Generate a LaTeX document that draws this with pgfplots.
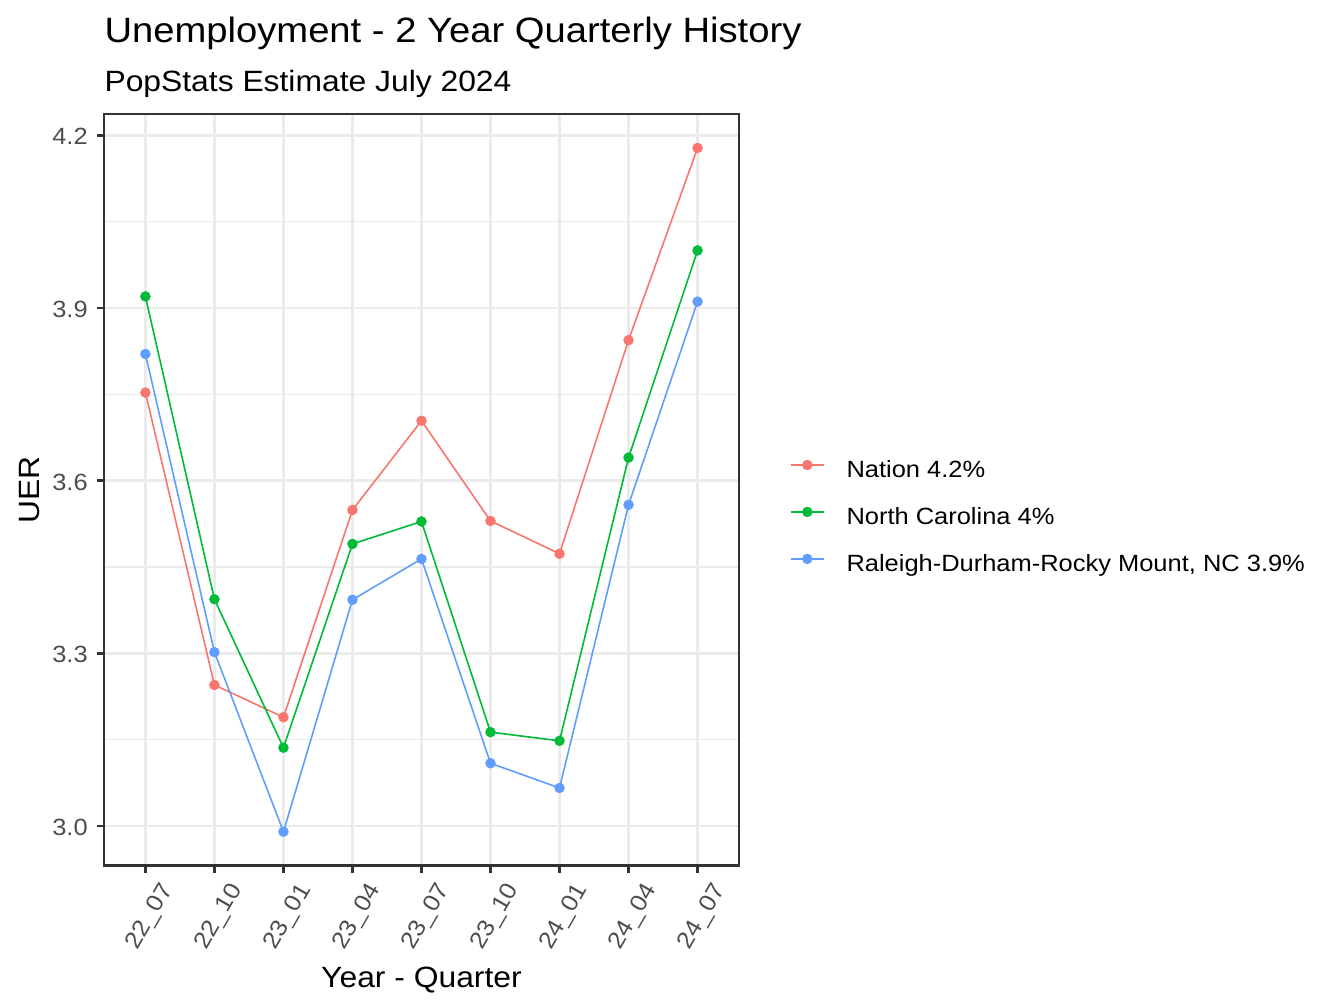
\documentclass[border=0pt]{standalone}
\usepackage{pgfplots}
\pgfplotsset{compat=1.18}
\usepackage{fontspec}
\setmainfont{Liberation Sans}[FakeStretch=1.085]
\definecolor{cNation}{HTML}{F8766D}
\definecolor{cNC}{HTML}{00BA38}
\definecolor{cRDU}{HTML}{619CFF}
\definecolor{grey92}{HTML}{EBEBEB}
\definecolor{grey20}{HTML}{333333}
\definecolor{grey30}{HTML}{4D4D4D}
\pgfplotstableread{
x y
0 3.753
1 3.245
2 3.189
3 3.549
4 3.704
5 3.530
6 3.473
7 3.844
8 4.178
}\nation
\pgfplotstableread{
x y
0 3.920
1 3.394
2 3.136
3 3.490
4 3.529
5 3.163
6 3.148
7 3.640
8 4.000
}\nc
\pgfplotstableread{
x y
0 3.820
1 3.302
2 2.990
3 3.393
4 3.464
5 3.109
6 3.066
7 3.558
8 3.911
}\rdu
\begin{document}
\begin{tikzpicture}
\useasboundingbox (0pt,0pt) rectangle (504pt,378pt);
\node[anchor=base west, inner sep=0pt, font=\fontsize{13.2}{15}\selectfont] at (39pt,361.875pt) {Unemployment - 2 Year Quarterly History};
\node[anchor=base west, inner sep=0pt, font=\fontsize{11}{13}\selectfont] at (39pt,343.61pt) {PopStats Estimate July 2024};
\begin{axis}[
  at={(39pt,53.36pt)}, anchor=south west,
  scale only axis, width=238.125pt, height=281.9pt,
  xmin=-0.6, xmax=8.6, ymin=2.931, ymax=4.237,
  xtick={0,1,2,3,4,5,6,7,8},
  xticklabels={22\_07,22\_10,23\_01,23\_04,23\_07,23\_10,24\_01,24\_04,24\_07},
  ytick={3.0,3.3,3.6,3.9,4.2},
  yticklabels={3.0,3.3,3.6,3.9,4.2},
  minor ytick={3.15,3.45,3.75,4.05},
  xmajorgrids, ymajorgrids, yminorgrids,
  major grid style={color=grey92, line width=1.07pt},
  minor grid style={color=grey92, line width=0.53pt},
  axis line style={color=grey20, line width=1.07pt},
  major tick style={color=grey20, line width=1.07pt},
  major tick length=2.75pt, minor tick length=0pt,
  tick align=outside,
  xtick pos=bottom, ytick pos=left,
  /pgf/number format/assume math mode=true,
  tick label style={font=\fontsize{8.8}{10}\selectfont, text=grey30, inner sep=0pt},
  yticklabel style={anchor=east, xshift=-3.15pt, yshift=-0.5pt},
  xticklabel style={anchor=center, xshift=1.85pt, yshift=-16.5pt, rotate=60},
  xlabel={Year - Quarter},
  ylabel={UER},
  label style={font=\fontsize{11}{13}\selectfont, inner sep=0pt},
  xlabel style={at={(axis description cs:0.5,-0.1614)}, anchor=base},
  ylabel style={at={(axis description cs:-0.1008,0.5)}, anchor=base},
  legend style={at={(axis description cs:1.0803,0.4619)}, anchor=west,
    draw=none, fill=none, inner sep=0pt, outer sep=0pt,
    row sep=9pt, column sep=8.2pt,
    font=\fontsize{8.8}{10}\selectfont,
    cells={anchor=base west},
    nodes={inner sep=0pt, text height=6.6pt, text depth=2pt}},
  legend image code/.code={\draw[#1, mark repeat=2, mark phase=2] plot coordinates {(0pt,4.75pt) (6.2pt,4.75pt) (12.4pt,4.75pt)};},
  every axis plot/.append style={line width=0.6pt, mark=*, mark size=1.85pt, mark options={solid, line width=0.2pt}},
]
\addplot[color=cNation] table[x=x,y=y] {\nation};
\addlegendentry{Nation 4.2\%}
\addplot[color=cNC] table[x=x,y=y] {\nc};
\addlegendentry{North Carolina 4\%}
\addplot[color=cRDU] table[x=x,y=y] {\rdu};
\addlegendentry{Raleigh-Durham-Rocky Mount, NC 3.9\%}
\end{axis}
\end{tikzpicture}
\end{document}
